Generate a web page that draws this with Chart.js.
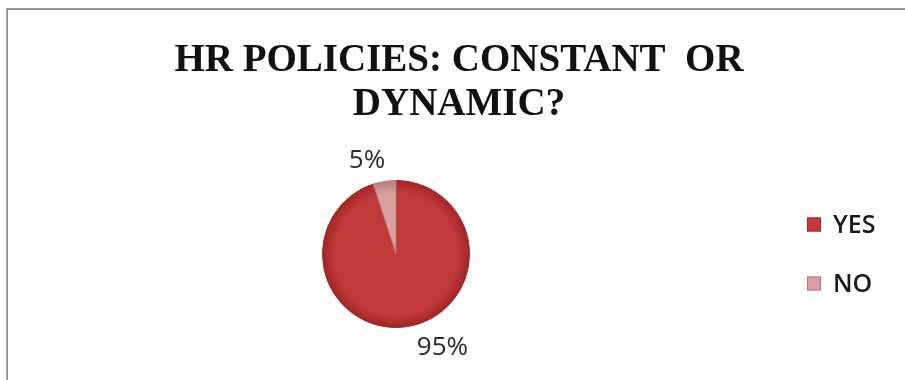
<!DOCTYPE html>
<html>
<head>
<meta charset="utf-8">
<script src="https://cdn.jsdelivr.net/npm/chart.js@4.4.0/dist/chart.umd.min.js"></script>
<style>
  html, body { margin: 0; padding: 0; background: #fff; }
  #wrap { width: 905px; height: 380px; position: relative; }
</style>
</head>
<body>
<div id="wrap"><canvas id="hrChart"></canvas></div>
<script>
// answers to "HR policies: constant or dynamic?"
const chartTitle = ['HR POLICIES: CONSTANT  OR', 'DYNAMIC?'];
const categories = ['YES', 'NO'];
const shares = [95, 5];
const sliceColors = ['#c3393a', '#d9a0a1'];
const sliceEdges = ['#a02626', '#b87a7b'];

// Excel-ish shading: lighter centre, darker rim
function shaded(ctx) {
    const chart = ctx.chart;
    const area = chart.chartArea;
    const base = sliceColors[ctx.dataIndex];
    if (!area) return base;
    const cx = (area.left + area.right) / 2;
    const cy = (area.top + area.bottom) / 2;
    const r = Math.min(area.right - area.left, area.bottom - area.top) / 2;
    const g = chart.ctx.createRadialGradient(cx, cy, 0, cx, cy, r);
    g.addColorStop(0, base);
    g.addColorStop(0.82, base);
    g.addColorStop(1, sliceEdges[ctx.dataIndex]);
    return g;
}

// percentage labels just outside each slice
const outsideLabels = {
    id: 'outsideLabels',
    afterDatasetsDraw(chart) {
        const ctx = chart.ctx;
        const meta = chart.getDatasetMeta(0);
        ctx.save();
        ctx.font = '26px "Open Sans", sans-serif';
        ctx.fillStyle = '#2b2b2b';
        ctx.textBaseline = 'middle';
        meta.data.forEach((arc, i) => {
            const mid = (arc.startAngle + arc.endAngle) / 2;
            const d = arc.outerRadius + 21;
            const x = arc.x + Math.cos(mid) * d;
            const y = arc.y + Math.sin(mid) * d;
            const right = Math.cos(mid) >= 0;
            ctx.textAlign = right ? 'left' : 'right';
            ctx.fillText(shares[i] + '%', x + (right ? 6 : 4), y);
        });
        ctx.restore();
    }
};

// legend drawn by hand to the right of the pie
const sideLegend = {
    id: 'sideLegend',
    afterDraw(chart) {
        const ctx = chart.ctx;
        const area = chart.chartArea;
        const cy = (area.top + area.bottom) / 2;
        const x = area.right + 23;
        const gap = 59;
        ctx.save();
        ctx.font = '600 25px "Open Sans", sans-serif';
        ctx.textBaseline = 'middle';
        ctx.textAlign = 'left';
        categories.forEach((name, i) => {
            const y = cy - gap / 2 + i * gap;
            ctx.fillStyle = sliceColors[i];
            ctx.fillRect(x, y - 7, 14, 14);
            ctx.strokeStyle = sliceEdges[i];
            ctx.lineWidth = 1;
            ctx.strokeRect(x + 0.5, y - 6.5, 13, 13);
            ctx.fillStyle = '#1a1a1a';
            ctx.fillText(name, x + 26, y + 1);
        });
        ctx.restore();
    }
};

// serif title centred on the whole frame, not on the pie
const frameTitle = {
    id: 'frameTitle',
    afterDraw(chart) {
        const ctx = chart.ctx;
        const cx = (7 + chart.width + 6) / 2;
        ctx.save();
        ctx.font = 'bold 39px "Liberation Serif", "DejaVu Serif", serif';
        ctx.fillStyle = '#111';
        ctx.textAlign = 'center';
        ctx.textBaseline = 'middle';
        chartTitle.forEach((line, i) => ctx.fillText(line, cx, 61 + i * 44));
        ctx.restore();
    }
};

// thin grey frame, only top and left edges show in the crop
const frame = {
    id: 'frame',
    beforeDraw(chart) {
        const ctx = chart.ctx;
        ctx.save();
        ctx.strokeStyle = '#9a9a9a';
        ctx.lineWidth = 2;
        ctx.beginPath();
        ctx.moveTo(7, chart.height);
        ctx.lineTo(7, 9);
        ctx.lineTo(chart.width, 9);
        ctx.stroke();
        ctx.restore();
    }
};

new Chart(document.getElementById('hrChart'), {
    type: 'pie',
    data: {
        labels: categories,
        datasets: [{
            data: shares,
            backgroundColor: shaded,
            borderColor: sliceEdges,
            borderWidth: 1
        }]
    },
    options: {
        responsive: true,
        maintainAspectRatio: false,
        animation: false,
        layout: {
            padding: { left: 8, right: 121, top: 180, bottom: 52 }
        },
        plugins: {
            tooltip: { enabled: false },
            legend: { display: false },
            title: { display: false }
        }
    },
    plugins: [frame, outsideLabels, sideLegend, frameTitle]
});
</script>
</body>
</html>
